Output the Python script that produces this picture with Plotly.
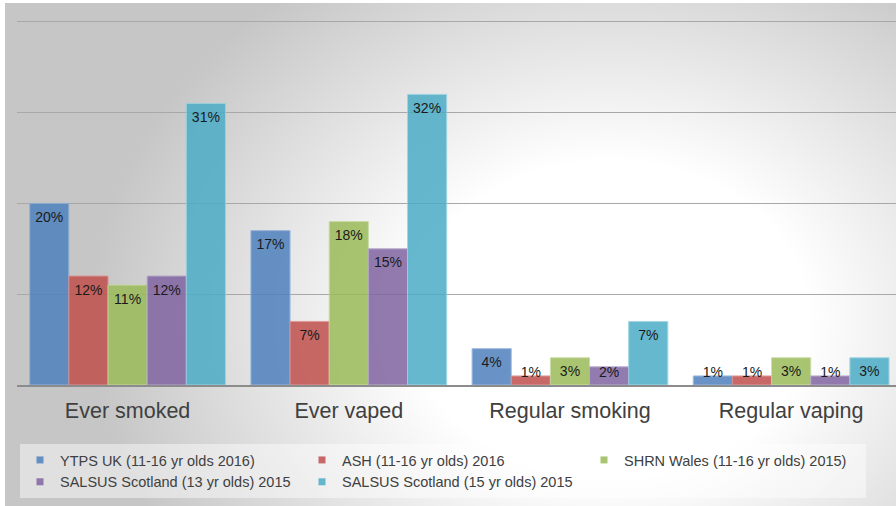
import base64
import plotly.graph_objects as go

categories = ["Ever smoked", "Ever vaped", "Regular smoking", "Regular vaping"]
series_names = [
    "YTPS UK (11-16 yr olds 2016)",
    "ASH (11-16 yr olds) 2016",
    "SHRN Wales (11-16 yr olds) 2015)",
    "SALSUS Scotland (13 yr olds) 2015",
    "SALSUS Scotland (15 yr olds) 2015",
]
ytps = [20, 17, 4, 1]
ash = [12, 7, 1, 1]
shrn = [11, 18, 3, 3]
salsus13 = [12, 15, 2, 1]
salsus15 = [31, 32, 7, 3]
series_values = [ytps, ash, shrn, salsus13, salsus15]
colors = ["#4F81BD", "#C0504D", "#9BBB59", "#8064A2", "#4BACC6"]
edge_colors = ["#8FAFD8", "#DC8C8A", "#C3D89A", "#B0A0C8", "#94D0E0"]

W, H = 896, 506
ML, MR, MT, MB = 17, 0, 19, 121
PW = W - ML - MR
PH = H - MT - MB
YMAX = 40.3
GAP = 0.115

FONT = "Arial, Liberation Sans, sans-serif"

# label placement (inside end, pushed up when the bar is too short)
px_per_unit = PH / YMAX
label_drop = 15 / px_per_unit
label_floor = 12 / px_per_unit

fig = go.Figure()
for i, (name, vals, c, ec) in enumerate(zip(series_names, series_values, colors, edge_colors)):
    fig.add_trace(go.Bar(
        x=categories, y=vals, name=name,
        offsetgroup=str(i), legendgroup=str(i), showlegend=False,
        marker=dict(color=c, opacity=0.85, line=dict(color=ec, width=1)),
        cliponaxis=False,
    ))
for i, vals in enumerate(series_values):
    fig.add_trace(go.Scatter(
        x=categories,
        y=[max(v - label_drop, label_floor) for v in vals],
        offsetgroup=str(i),
        mode="text",
        text=[f"{v}%" for v in vals],
        textposition="middle center",
        textfont=dict(family=FONT, size=14, color="#1a1a1a"),
        showlegend=False, hoverinfo="skip", cliponaxis=False,
    ))
# legend entries with small square keys
for i, (name, c) in enumerate(zip(series_names, colors)):
    fig.add_trace(go.Scatter(
        x=[None], y=[None], name=name, mode="markers",
        legendgroup=str(i), showlegend=True,
        marker=dict(symbol="square", size=7, color=c, opacity=0.85,
                    line=dict(width=0)),
    ))

# background radial gradient as an svg image
svg = f'''<svg xmlns="http://www.w3.org/2000/svg" width="{W}" height="{H}" viewBox="0 0 {W} {H}">
<defs><radialGradient id="g" gradientUnits="userSpaceOnUse" cx="610" cy="320" r="520"
 gradientTransform="translate(610 320) scale(1 0.8) translate(-610 -320)">
<stop offset="0" stop-color="#ffffff"/><stop offset="0.38" stop-color="#ffffff"/>
<stop offset="1" stop-color="#c6c6c6"/></radialGradient></defs>
<rect x="0" y="0" width="{W}" height="{H}" fill="#ffffff"/>
<rect x="5" y="3" width="{W-5}" height="{H-3}" fill="url(#g)"/>
</svg>'''
src = "data:image/svg+xml;base64," + base64.b64encode(svg.encode()).decode()

fig.add_layout_image(dict(
    source=src, xref="paper", yref="paper",
    x=-ML / PW, y=1 + MT / PH, sizex=W / PW, sizey=H / PH,
    xanchor="left", yanchor="top", sizing="stretch", layer="below",
))

fig.update_layout(
    width=W, height=H,
    margin=dict(l=ML, r=MR, t=MT, b=MB, pad=0),
    paper_bgcolor="#ffffff",
    plot_bgcolor="rgba(0,0,0,0)",
    barmode="group",
    bargap=GAP,
    bargroupgap=0,
    scattermode="group",
    scattergap=GAP,
    font=dict(family=FONT, color="#404040"),
    showlegend=True,
    legend=dict(
        orientation="h",
        x=(20 - ML) / PW, xanchor="left",
        y=(PH + MT - 444) / PH, yanchor="top",
        bgcolor="rgba(255,255,255,0.45)",
        font=dict(family=FONT, size=14.5, color="#404040"),
        entrywidth=237, entrywidthmode="pixels",
        itemwidth=30,
        traceorder="normal",
    ),
    xaxis=dict(
        range=[-0.5, 3.474],
        showgrid=False,
        showline=True, linecolor="#8c8c8c", linewidth=1.5,
        ticks="",
        tickfont=dict(family=FONT, size=21.5, color="#404040"),
        ticklabelstandoff=5,
    ),
    yaxis=dict(
        range=[0, YMAX],
        tickvals=[10, 20, 30, 40],
        showgrid=True, gridcolor="#a8a8a8", gridwidth=1,
        zeroline=False,
        showticklabels=False,
        ticks="",
    ),
)

fig.write_html("out.html")
